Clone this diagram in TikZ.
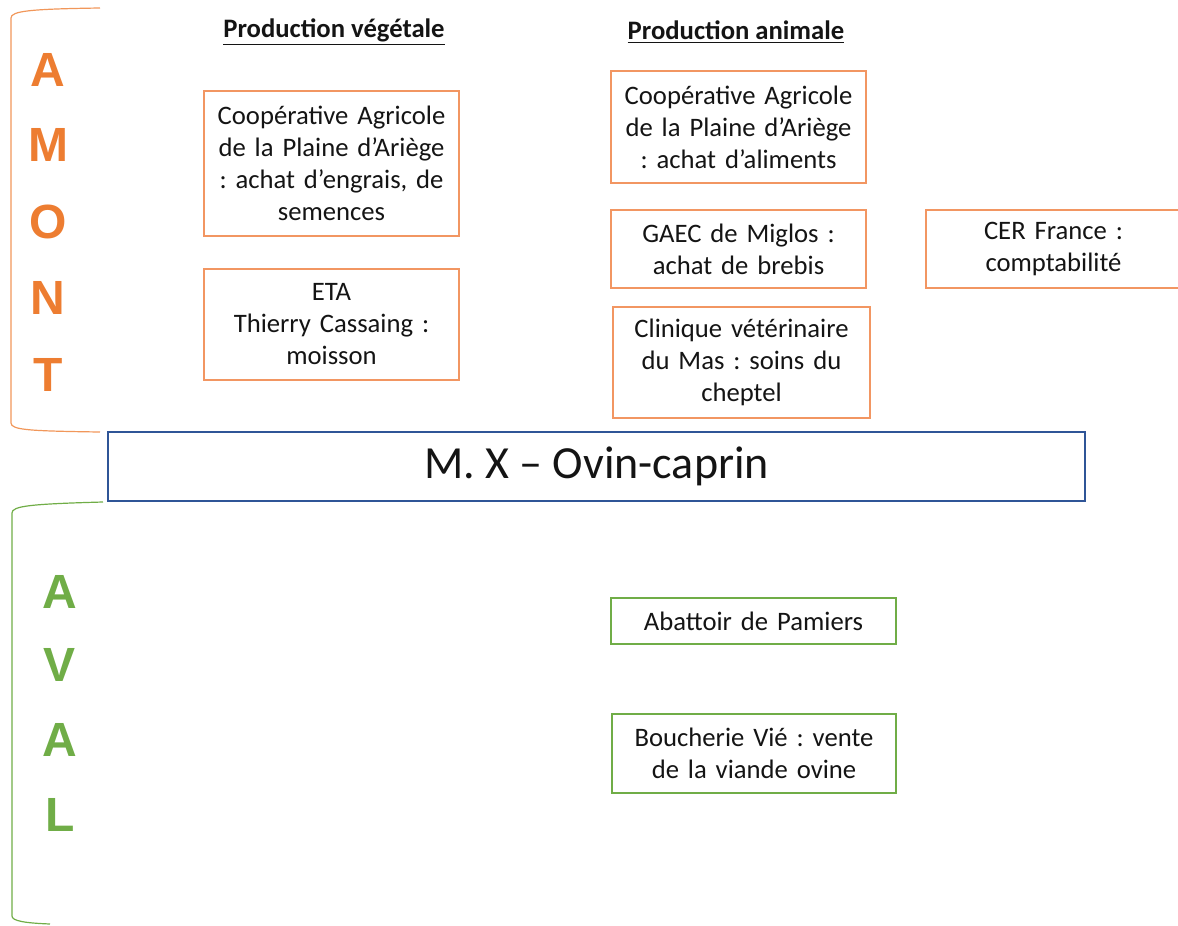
\documentclass[tikz,border=0pt]{standalone}
\usepackage{fontspec}
\setmainfont{Carlito}
\newfontfamily\lettrefont{Liberation Sans}
\usetikzlibrary{positioning}
\definecolor{amontorange}{RGB}{237,125,49}
\definecolor{cadreorange}{RGB}{242,150,98}
\definecolor{avalgreen}{RGB}{112,173,71}
\definecolor{centreblue}{RGB}{47,85,151}
\definecolor{texte}{RGB}{20,20,20}
\frenchspacing

\begin{document}
\begin{tikzpicture}[
    x=0.75pt, y=-0.75pt,
    every node/.style={font=\fontsize{20}{24}\selectfont, text=texte},
    acteur/.style={draw=cadreorange, line width=0.9pt, align=center, inner sep=0pt, text width=187pt},
    client/.style={draw=avalgreen, line width=0.9pt, align=center, inner sep=0pt, text width=210pt},
    titre/.style={font=\bfseries\fontsize{20}{24}\selectfont},
    lettre/.style={font=\lettrefont\bfseries\fontsize{36}{36}\selectfont},
    accolade/.style={line width=0.9pt}
]
\useasboundingbox (0,0) rectangle (1178,925);

% titres des colonnes
\node[titre] (titreveg) at (334,32) {\underline{Production végétale}};
\node[titre] (titreani) at (736,32) {\underline{Production animale}};

% amont : production vegetale
\node[acteur, minimum width=191.25pt, minimum height=108.75pt] (coopveg) at (331.5,163.5)
    {Coopérative Agricole\\de la Plaine d’Ariège\\: achat d’engrais, de\\semences};
\node[acteur, minimum width=191.25pt, minimum height=83.25pt] (eta) at (331.5,324.5)
    {ETA\\Thierry Cassaing :\\moisson};

% amont : production animale
\node[acteur, minimum width=191.25pt, minimum height=84pt] (coopani) at (738.5,127)
    {Coopérative Agricole\\de la Plaine d’Ariège\\: achat d’aliments};
\node[acteur, minimum width=191.25pt, minimum height=58.5pt] (gaec) at (738.5,249)
    {GAEC de Miglos :\\achat de brebis};
\node[acteur, minimum width=192.75pt, minimum height=83.25pt] (clinique) at (741.5,362.5)
    {Clinique vétérinaire\\du Mas : soins du\\cheptel};
\node[acteur, minimum width=191.25pt, minimum height=58.5pt] (cer) at (1053.5,249)
    {CER France :\\comptabilité};

% exploitation
\node[draw=centreblue, line width=1.5pt, minimum width=732.75pt, minimum height=51.75pt, inner sep=0pt,
    font=\fontsize{34.5}{40}\selectfont] (exploit) at (596.5,466.5) {\raisebox{-2pt}{M. X – Ovin-caprin}};

% aval
\node[client, minimum width=213.75pt, minimum height=34.5pt] (abattoir) at (753.5,621)
    {Abattoir de Pamiers};
\node[client, minimum width=213pt, minimum height=59.25pt] (boucherie) at (754,753.5)
    {Boucherie Vié : vente\\de la viande ovine};

% accolades
\draw[accolade, amontorange!80] (100,8) .. controls (30,9) and (11,11) .. (11,18)
    -- (11,423) .. controls (11,430) and (30,431) .. (100,432);
\draw[accolade, avalgreen] (103,502) .. controls (30,504) and (12,506) .. (12,513)
    -- (12,916) .. controls (12,921) and (25,923) .. (50,924);

% lettres
\foreach \l/\y [count=\i] in {A/70,M/145,O/222,N/298,T/375}
    \node[lettre, text=amontorange] (amont\i) at (48,\y) {\l};
\foreach \l/\y [count=\i] in {A/592,V/665,A/740,L/815}
    \node[lettre, text=avalgreen] (aval\i) at (60,\y) {\l};
\end{tikzpicture}
\end{document}
